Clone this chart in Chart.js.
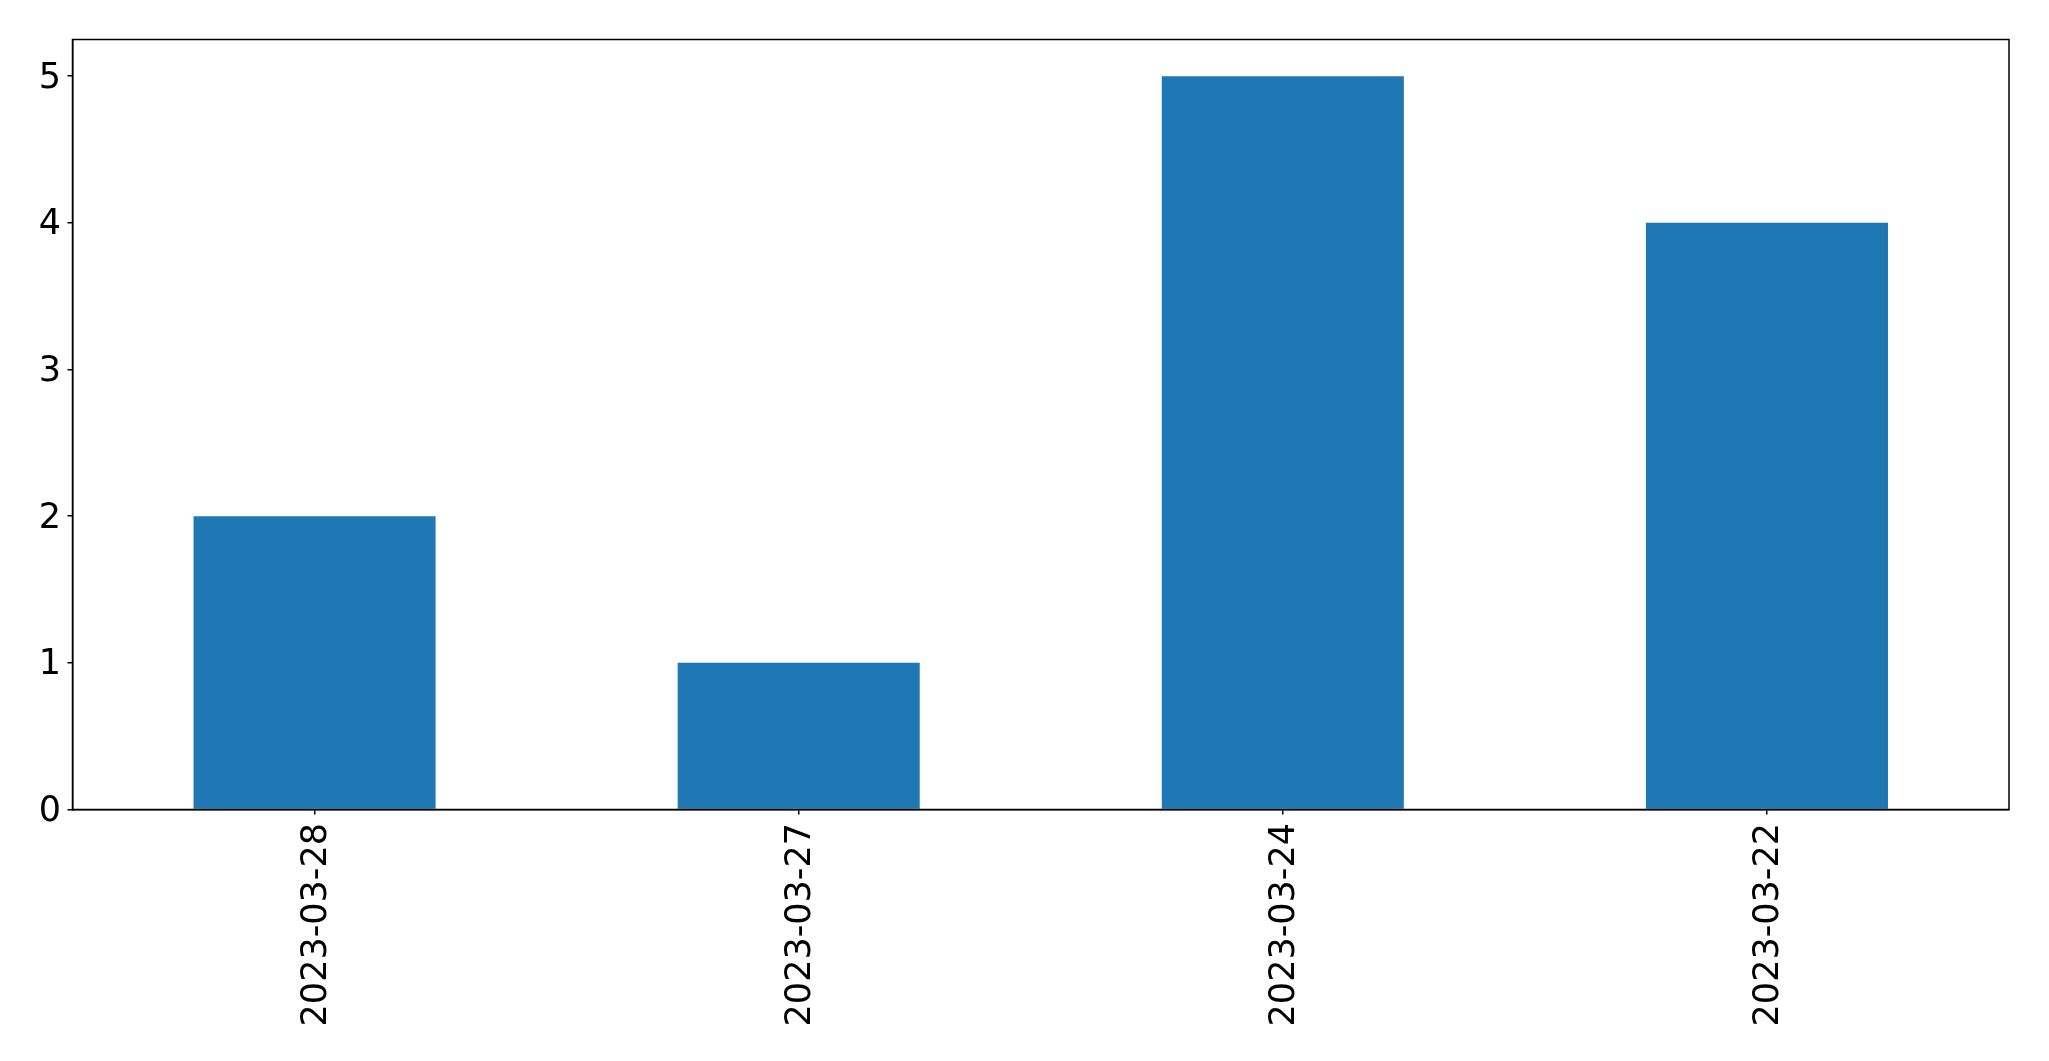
<!DOCTYPE html>
<html>
<head>
<meta charset="utf-8">
<script src="https://cdn.jsdelivr.net/npm/chart.js@4"></script>
<style>
html,body{margin:0;padding:0;background:#fff;}
#wrap{width:2049px;height:1061px;position:relative;}
</style>
</head>
<body>
<div id="wrap"><canvas id="c" width="2049" height="1061"></canvas></div>
<script>
const categories = ['2023-03-28', '2023-03-27', '2023-03-24', '2023-03-22'];
const counts = [2, 1, 5, 4];
const yTicks = [0, 1, 2, 3, 4, 5];

const frame = {
  id: 'frame',
  afterDraw(chart) {
    const a = chart.chartArea, ctx = chart.ctx;
    ctx.save();
    ctx.strokeStyle = '#000';
    ctx.lineWidth = 1.5;
    ctx.strokeRect(a.left, a.top, a.right - a.left, a.bottom - a.top);
    ctx.restore();
  }
};

new Chart(document.getElementById('c'), {
  type: 'bar',
  data: {
    labels: categories,
    datasets: [{
      data: counts,
      backgroundColor: '#1f77b4',
      borderWidth: 0,
      categoryPercentage: 1,
      barPercentage: 0.5
    }]
  },
  options: {
    responsive: false,
    animation: false,
    devicePixelRatio: 1,
    layout: { padding: { top: 39.5, right: 40, left: 0, bottom: 0 } },
    plugins: { legend: { display: false }, tooltip: { enabled: false } },
    scales: {
      x: {
        grid: { display: true, offset: false, drawOnChartArea: false, drawTicks: true, tickLength: 5, color: '#000', lineWidth: 1.5 },
        border: { display: true, color: '#000', width: 1.5 },
        ticks: {
          color: '#000',
          font: { family: 'DejaVu Sans', size: 35 },
          maxRotation: 90, minRotation: 90,
          padding: 8.5,
          labelOffset: 2,
          autoSkip: false
        },
        afterFit(scale) { scale.height = 251.5; }
      },
      y: {
        min: 0, max: 5.25,
        grid: { display: true, drawOnChartArea: false, drawTicks: true, tickLength: 5, color: '#000', lineWidth: 1.5 },
        border: { display: true, color: '#000', width: 1.5 },
        ticks: {
          color: '#000',
          font: { family: 'DejaVu Sans', size: 35 },
          stepSize: 1,
          padding: 6.5,
          labelOffset: 2.5
        },
        afterBuildTicks(scale) { scale.ticks = yTicks.map(v => ({ value: v })); },
        afterFit(scale) { scale.width = 72.5; }
      }
    }
  },
  plugins: [frame]
});
</script>
</body>
</html>
